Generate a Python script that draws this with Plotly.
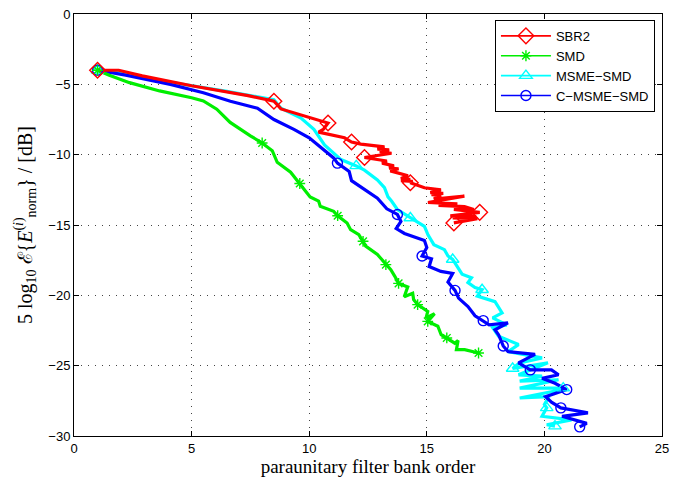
import plotly.graph_objects as go

# ---------------- data ----------------
sbr2_x = [1.0, 1.9, 2.9, 5.0, 7.4, 8.5, 8.8, 9.5, 10.1, 10.8, 10.6, 10.4, 11.5, 11.8,
          12.2, 13.2, 12.9, 13.4, 13.0, 13.5, 12.35, 13.3, 13.1, 13.6, 13.4, 13.8, 13.45,
          14.2, 13.9, 14.3, 13.9, 14.4, 14.3, 14.9, 15.6, 15.15, 15.7, 15.2, 15.6, 15.3,
          16.6, 15.05, 16.3, 15.5, 16.6, 17.0, 16.15, 17.25, 16.0, 17.1, 16.1, 17.15, 16.15]
sbr2_y = [-4.0, -4.0, -4.4, -5.1, -5.8, -6.2, -6.75, -7.1, -7.4, -7.75, -8.2, -8.4, -8.8, -9.1,
          -9.25, -9.45, -9.6, -9.65, -9.8, -9.9, -10.2, -10.45, -10.6, -10.8, -10.95, -11.0, -11.15,
          -11.5, -11.7, -11.75, -11.85, -11.9, -12.0, -12.35, -12.5, -12.7, -12.75, -12.85, -12.9, -13.15,
          -12.95, -13.4, -13.5, -13.6, -13.7, -13.9, -13.9, -14.1, -14.35, -14.4, -14.5, -14.55, -14.85]
sbr2_marks = [0, 5, 9, 13, 20, 32, 47, 52]

smd_x = [1.0, 1.5, 2.36, 3.64, 5.0, 5.5, 6.07, 6.64, 7.5, 8.0, 8.43, 8.64, 9.21, 9.6,
         10.04, 10.4, 10.47, 11.04, 11.21, 11.61, 11.76, 12.11, 12.29, 12.4, 12.9, 13.26,
         13.47, 13.64, 13.8, 14.19, 14.04, 14.4, 14.44, 14.61, 15.04, 14.97, 15.33, 15.04,
         15.47, 15.61, 15.85, 16.19, 16.33, 16.26, 16.61, 17.2]
smd_y = [-4.0, -4.35, -4.88, -5.47, -5.95, -6.18, -6.77, -7.71, -8.66, -9.17, -9.72, -10.54, -11.25, -12.05,
         -13.0, -13.3, -13.67, -14.03, -14.34, -14.86, -15.33, -15.69, -16.16, -16.5, -17.1, -17.82,
         -18.18, -18.65, -19.15, -19.4, -20.1, -19.85, -20.3, -20.66, -21.14, -21.6, -21.3, -21.85,
         -22.2, -22.8, -23.03, -23.4, -23.2, -23.86, -23.86, -24.1]
smd_marks = [0, 9, 13, 18, 22, 25, 28, 33, 37, 40, 45]

msme_x = [1.0, 2.0, 4.1, 6.5, 8.5, 8.8, 9.65, 10.2, 10.65, 11.35, 12.0, 12.35, 12.9, 13.2,
          13.35, 13.5, 13.75, 14.3, 14.9, 15.05, 15.3, 15.75, 15.9, 16.1, 16.3, 16.5, 16.9,
          16.75, 17.05, 17.35, 17.15, 17.9, 18.2, 17.8, 18.4, 17.8, 18.05, 18.9, 18.45, 19.9,
          18.95, 18.65, 20.15, 18.9, 19.9, 18.95, 20.6, 18.95, 20.8, 20.45, 18.95, 20.2, 20.0,
          20.1, 19.9, 21.15, 20.1, 20.45]
msme_y = [-4.0, -4.2, -4.85, -5.5, -6.1, -6.7, -7.4, -8.2, -9.3, -10.35, -10.8, -11.1, -11.8, -12.35,
          -13.0, -13.3, -13.9, -14.5, -15.1, -15.7, -16.4, -16.75, -17.2, -17.45, -17.95, -18.5, -18.75,
          -19.1, -19.45, -19.6, -20.05, -20.45, -21.25, -21.6, -22.1, -22.3, -22.9, -23.5, -24.0, -24.45,
          -24.8, -25.2, -24.8, -25.65, -25.75, -26.1, -26.0, -26.6, -26.6, -26.8, -27.3, -27.2, -27.75,
          -28.0, -28.6, -28.85, -29.2, -29.3]
msme_marks = [0, 10, 17, 23, 29, 41, 48, 53, 57]

cmsme_x = [1.0, 2.2, 4.1, 5.5, 6.65, 7.8, 8.5, 9.35, 10.0, 10.6, 11.05, 11.2, 11.7, 11.8,
           12.4, 12.9, 13.3, 13.75, 13.9, 13.7, 14.05, 14.9, 15.0, 14.8, 15.2, 15.1, 15.6,
           16.1, 15.9, 16.2, 16.35, 16.75, 17.05, 17.4, 17.65, 18.45, 17.9, 18.05, 18.25,
           18.45, 19.6, 18.9, 19.4, 20.3, 20.6, 19.9, 20.45, 20.95, 20.05, 20.3, 20.7, 21.85,
           20.75, 21.8, 21.5]
cmsme_y = [-4.0, -4.35, -5.0, -5.6, -6.2, -6.7, -7.5, -8.2, -8.8, -9.6, -10.25, -10.6, -11.2, -11.85,
           -12.5, -13.1, -13.85, -14.25, -14.75, -15.25, -15.6, -16.1, -16.6, -17.2, -17.4, -17.95, -18.3,
           -18.45, -19.05, -19.65, -20.2, -20.8, -21.45, -21.8, -22.1, -21.95, -22.45, -22.8, -23.6,
           -24.0, -24.2, -24.8, -25.3, -25.3, -25.65, -25.9, -26.25, -26.7, -27.2, -27.6, -28.0, -28.35,
           -28.6, -29.1, -29.35]
cmsme_marks = [0, 11, 17, 23, 29, 33, 38, 42, 47, 50, 54]

x_ticks = [0, 5, 10, 15, 20, 25]
y_ticks = [0, -5, -10, -15, -20, -25, -30]

series = [
    # name, x, y, marker idx, colour, symbol, size
    ("SBR2", sbr2_x, sbr2_y, sbr2_marks, "#ff0000", "diamond-open", 12),
    ("SMD", smd_x, smd_y, smd_marks, "#00ee00", "asterisk-open", 9),
    ("MSME\u2212SMD", msme_x, msme_y, msme_marks, "#00ffff", "triangle-up-open", 11),
    ("C\u2212MSME\u2212SMD", cmsme_x, cmsme_y, cmsme_marks, "#0000ff", "circle-open", 10),
]
draw_order = [2, 3, 1, 0]

fig = go.Figure()
LW = 3.2
for k in draw_order:
    name, xs, ys, idx, col, sym, sz = series[k]
    fig.add_trace(go.Scatter(x=xs, y=ys, mode="lines", line=dict(color=col, width=LW),
                             showlegend=False, hoverinfo="skip"))
for k in draw_order:
    name, xs, ys, idx, col, sym, sz = series[k]
    fig.add_trace(go.Scatter(x=[xs[i] for i in idx], y=[ys[i] for i in idx], mode="markers",
                             marker=dict(symbol=sym, size=sz, color=col, line=dict(color=col, width=1.4)),
                             showlegend=False, hoverinfo="skip"))
for name, xs, ys, idx, col, sym, sz in series:
    fig.add_trace(go.Scatter(x=[None], y=[None], mode="lines+markers", name=name,
                             line=dict(color=col, width=1.6),
                             marker=dict(symbol=sym, size=sz, color=col, line=dict(color=col, width=1.4))))

axis_common = dict(
    showline=True, linecolor="black", linewidth=1, mirror="ticks",
    ticks="inside", ticklen=5, tickcolor="black", tickwidth=1,
    showgrid=True, gridcolor="#444444", gridwidth=1, griddash="1px,6px",
    zeroline=False, automargin=False, ticklabeloverflow="allow",
    tickfont=dict(family="Liberation Sans, Arial", size=13, color="black"),
)

fig.update_xaxes(range=[0, 25], tickvals=x_ticks, **axis_common,
                 title=dict(text="paraunitary filter bank order",
                            font=dict(family="Liberation Serif, Times New Roman", size=19, color="black"),
                            standoff=2))
fig.update_yaxes(range=[-30, 0], tickvals=y_ticks, **axis_common,
                 title=dict(text="5 log<sub>10</sub> \u2130{<i>E</i><sup>(<i>i</i>)</sup><sub>norm</sub>} / [dB]",
                            font=dict(family="Liberation Serif, Times New Roman", size=20, color="black"),
                            standoff=10))

# the page body has an 8px margin, so the figure is sized to fit the 678x482 window
fig.update_layout(
    width=670, height=474,
    margin=dict(l=66, r=16, t=6, b=46),
    paper_bgcolor="white", plot_bgcolor="white",
    legend=dict(x=0.988, y=0.986, xanchor="right", yanchor="top",
                bgcolor="white", bordercolor="black", borderwidth=1,
                font=dict(family="Liberation Sans, Arial", size=13, color="black"),
                itemwidth=50, tracegroupgap=0),
)

fig.write_html("out.html")
